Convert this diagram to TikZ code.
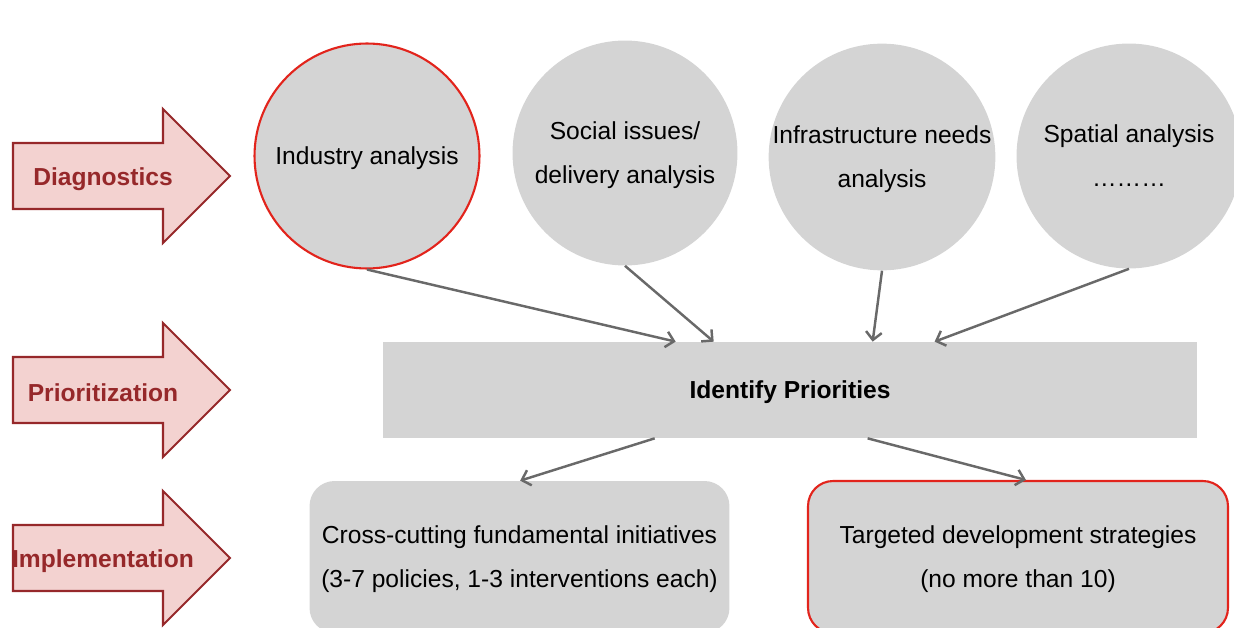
\documentclass[tikz,border=0pt]{standalone}
\usepackage{fontspec}
\setmainfont{Liberation Sans}
\usetikzlibrary{arrows.meta,positioning}
\definecolor{dggrey}{RGB}{212,212,212}
\definecolor{dgred}{RGB}{226,36,28}
\definecolor{dgmaroon}{RGB}{150,40,42}
\definecolor{dgpink}{RGB}{243,210,208}
\definecolor{dglink}{RGB}{105,105,105}

\begin{document}
\begin{tikzpicture}[x=0.02cm,y=-0.02cm,
  txt/.style={font=\fontsize{14}{25}\selectfont,align=center,text=black,text depth=0pt},
  stagearrow/.style={fill=dgpink,draw=dgmaroon,line width=1.2pt,line join=miter},
  stagelabel/.style={font=\fontsize{14}{17}\selectfont\bfseries,text=dgmaroon},
  topic/.style={txt,circle,fill=dggrey,inner sep=0pt,minimum size=4.5cm},
  plan/.style={txt,rectangle,rounded corners=0.5cm,fill=dggrey,
    minimum width=8.4cm,minimum height=3.04cm},
  link/.style={draw=dglink,line width=1.4pt,
    -{Straight Barb[length=4.5pt,width=9pt]}}]

\useasboundingbox (0,0) rectangle (1234,628);

% stages on the left
\foreach \y/\lbl in {176/Diagnostics, 390/Prioritization, 558/Implementation}{
  \draw[stagearrow] (13,\y-33) -- (163,\y-33) -- (163,\y-67) -- (230,\y)
    -- (163,\y+67) -- (163,\y+33) -- (13,\y+33) -- cycle;
  \node[stagelabel] (stage\y) at (103,\y+3) {\lbl};
}

% diagnostics
\node[topic,draw=dgred,line width=1.2pt] (industry) at (367,156) {Industry analysis};
\node[topic] (social) at (625,153) {Social issues/\\delivery analysis};
\node[topic] (infra) at (882,157) {Infrastructure needs\\analysis};
\node[topic] (spatial) at (1129,156) {Spatial analysis\\………};

% prioritization
\node[txt,fill=dggrey,minimum width=16.28cm,minimum height=1.92cm,
  font=\fontsize{14}{17}\selectfont\bfseries] (prio) at (790,390) {Identify Priorities};

% implementation
\node[plan] (cross) at (519.5,557) {Cross-cutting fundamental initiatives\\(3-7 policies, 1-3 interventions each)};
\node[plan,draw=dgred,line width=1.2pt] (target) at (1018,557) {Targeted development strategies\\(no more than 10)};

\draw[link] (industry.south) -- ([xshift=5.86cm]prio.north west);
\draw[link] (social.south) -- ([xshift=6.62cm]prio.north west);
\draw[link] (infra.south) -- ([xshift=9.8cm]prio.north west);
\draw[link] (spatial.south) -- ([xshift=11.04cm]prio.north west);

\draw[link] ([xshift=5.44cm]prio.south west) -- ([xshift=4.22cm]cross.north west);
\draw[link] ([xshift=9.7cm]prio.south west) -- ([xshift=4.38cm]target.north west);

\end{tikzpicture}
\end{document}
